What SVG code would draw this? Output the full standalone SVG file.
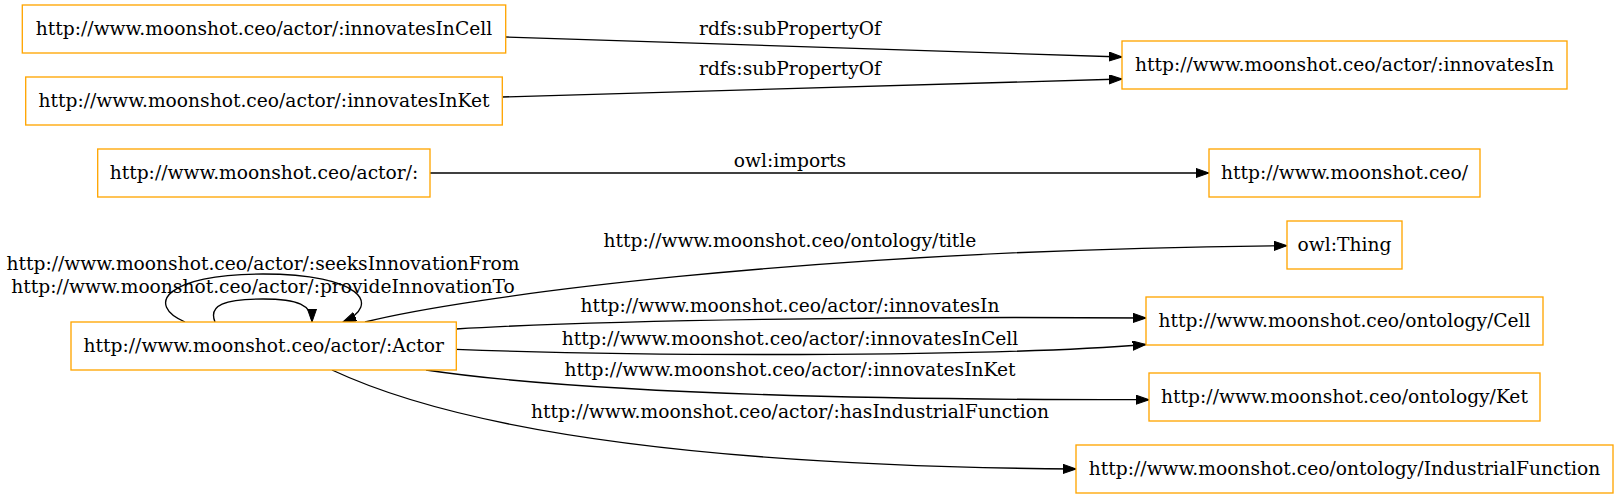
<svg xmlns="http://www.w3.org/2000/svg" width="1619" height="499" viewBox="0 0 1619 499">
<style>
.node rect{fill:#ffffff;stroke:#ffa500;stroke-width:1.33}
text{font-family:"DejaVu Serif","Liberation Serif",serif;font-size:18.67px;fill:#000000;text-anchor:middle}
.edge{fill:none;stroke:#000000;stroke-width:1.33;marker-end:url(#arrow)}
</style>
<defs>
<marker id="arrow" markerUnits="userSpaceOnUse" markerWidth="14" markerHeight="10" refX="13.3" refY="4.67" orient="auto">
<polygon points="0,0 13.3,4.67 0,9.33" fill="#000000" stroke="#000000" stroke-width="1"/>
</marker>
</defs>
<rect width="1619" height="499" fill="#ffffff"/>
<g id="connectors">
<path class="edge" d="M506,37 L1122,57"/>
<path class="edge" d="M502,97 L1122,79"/>
<path class="edge" d="M430,173 L1209,173"/>
<path class="edge" d="M365,322 C460,298 800,250 1287,245.7"/>
<path class="edge" d="M456,329 C600,320 900,316 1146,318"/>
<path class="edge" d="M456,349.3 C620,356 980,358 1146,344.5"/>
<path class="edge" d="M426,370 C560,390 800,400 1149,399.7"/>
<path class="edge" d="M332,370 C460,430 700,466 1076,469"/>
<path class="edge" d="M185,322 C145,305 165,274 263,274 C361,274 382,305 343,322"/>
<path class="edge" d="M215,322 C208,305 225,299 263,299 C298,299 312,305 312,322"/>
<text x="790" y="35">rdfs:subPropertyOf</text>
<text x="790" y="75">rdfs:subPropertyOf</text>
<text x="790" y="167">owl:imports</text>
<text x="790" y="246.7">http://www.moonshot.ceo/ontology/title</text>
<text x="790" y="311.7">http://www.moonshot.ceo/actor/:innovatesIn</text>
<text x="790" y="345">http://www.moonshot.ceo/actor/:innovatesInCell</text>
<text x="790" y="375.7">http://www.moonshot.ceo/actor/:innovatesInKet</text>
<text x="790" y="418">http://www.moonshot.ceo/actor/:hasIndustrialFunction</text>
<text x="263" y="270">http://www.moonshot.ceo/actor/:seeksInnovationFrom</text>
<text x="263" y="293">http://www.moonshot.ceo/actor/:provideInnovationTo</text>
</g>
<g id="node-innovatesInCell" class="node"><rect x="22.3" y="5" width="483.4" height="48"/><text x="264" y="34.6">http://www.moonshot.ceo/actor/:innovatesInCell</text></g>
<g id="node-innovatesInKet" class="node"><rect x="25.7" y="77" width="476.6" height="48"/><text x="264" y="106.6">http://www.moonshot.ceo/actor/:innovatesInKet</text></g>
<g id="node-actor-ns" class="node"><rect x="97.7" y="149" width="332.3" height="48"/><text x="264" y="178.6">http://www.moonshot.ceo/actor/:</text></g>
<g id="node-Actor" class="node"><rect x="71" y="322" width="385.3" height="48"/><text x="263.7" y="351.6">http://www.moonshot.ceo/actor/:Actor</text></g>
<g id="node-innovatesIn" class="node"><rect x="1122" y="41" width="445" height="48"/><text x="1344.5" y="70.6">http://www.moonshot.ceo/actor/:innovatesIn</text></g>
<g id="node-moonshot" class="node"><rect x="1209" y="149" width="271" height="48"/><text x="1344.5" y="178.6">http://www.moonshot.ceo/</text></g>
<g id="node-owlThing" class="node"><rect x="1287" y="221" width="115" height="48"/><text x="1344.5" y="250.6">owl:Thing</text></g>
<g id="node-Cell" class="node"><rect x="1146" y="297" width="397" height="48"/><text x="1344.5" y="326.6">http://www.moonshot.ceo/ontology/Cell</text></g>
<g id="node-Ket" class="node"><rect x="1149" y="373" width="391" height="48"/><text x="1344.5" y="402.6">http://www.moonshot.ceo/ontology/Ket</text></g>
<g id="node-IndustrialFunction" class="node"><rect x="1076" y="445" width="537" height="48"/><text x="1344.5" y="474.6">http://www.moonshot.ceo/ontology/IndustrialFunction</text></g>
</svg>
